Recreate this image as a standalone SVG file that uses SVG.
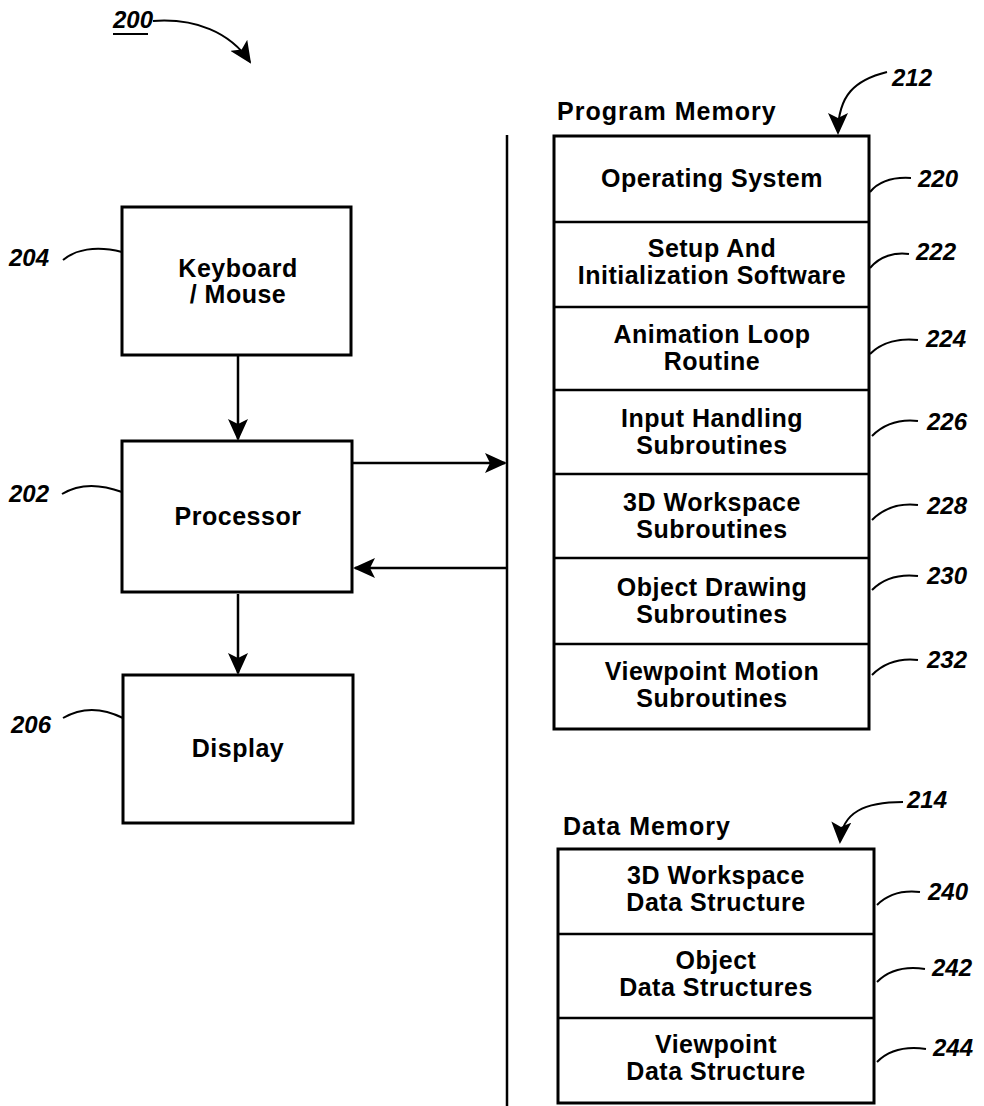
<svg xmlns="http://www.w3.org/2000/svg" width="984" height="1106" viewBox="0 0 984 1106">
<defs>
<style>
.box{fill:#fff;stroke:#000;stroke-width:3}
.t{font-family:"Liberation Sans",Arial,sans-serif;font-weight:bold;font-size:25px;letter-spacing:0.5px;text-anchor:middle;fill:#000}
.h{font-family:"Liberation Sans",Arial,sans-serif;font-weight:bold;font-size:25px;letter-spacing:1px;fill:#000}
.n{font-family:"Liberation Sans",Arial,sans-serif;font-weight:bold;font-style:italic;font-size:24px;fill:#000}
.ln{fill:none;stroke:#000;stroke-width:2.5}
.ld{fill:none;stroke:#000;stroke-width:2}
</style>
<marker id="ab" markerWidth="22" markerHeight="20" refX="20" refY="10" orient="auto" markerUnits="userSpaceOnUse" viewBox="0 0 22 20"><path d="M0,0 L22,10 L0,20 L5,10 Z" fill="#000"/></marker>
</defs>

<g id="connectors">
<line class="ln" x1="507" y1="135" x2="507" y2="1106"/>
<line class="ln" x1="238" y1="356" x2="238" y2="439" marker-end="url(#ab)"/>
<line class="ln" x1="238" y1="594" x2="238" y2="673" marker-end="url(#ab)"/>
<line class="ln" x1="353" y1="463" x2="505" y2="463" marker-end="url(#ab)"/>
<line class="ln" x1="507" y1="568" x2="355" y2="568" marker-end="url(#ab)"/>
</g>

<g id="ref200">
<text class="n" x="113" y="28" font-size="22">200</text>
<line x1="113" y1="34" x2="148" y2="34" stroke="#000" stroke-width="2"/>
<path class="ld" d="M153,21 C195,18 230,32 250,62" marker-end="url(#ab)"/>
</g>

<g id="n204">
<rect class="box" x="122" y="207" width="229" height="148"/>
<text class="t" x="238" y="277">Keyboard</text>
<text class="t" x="238" y="303">/ Mouse</text>
<text class="n" x="9" y="266">204</text>
<path class="ld" d="M63,260 C75,250 95,245 122,252"/>
</g>

<g id="n202">
<rect class="box" x="122" y="441" width="230" height="151"/>
<text class="t" x="238" y="525">Processor</text>
<text class="n" x="9" y="502">202</text>
<path class="ld" d="M62,494 C75,486 95,482 122,492"/>
</g>

<g id="n206">
<rect class="box" x="123" y="675" width="230" height="148"/>
<text class="t" x="238" y="757">Display</text>
<text class="n" x="11" y="733">206</text>
<path class="ld" d="M63,718 C75,711 95,704 123,718"/>
</g>

<g id="programMemory">
<text class="h" x="557" y="120">Program  Memory</text>
<text class="n" x="892" y="86">212</text>
<path class="ld" d="M887,72 C855,80 838,95 838,133" marker-end="url(#ab)"/>
<rect class="box" x="554" y="136" width="315" height="593"/>
<line class="ln" x1="554" y1="222" x2="869" y2="222"/>
<line class="ln" x1="554" y1="307" x2="869" y2="307"/>
<line class="ln" x1="554" y1="390" x2="869" y2="390"/>
<line class="ln" x1="554" y1="474" x2="869" y2="474"/>
<line class="ln" x1="554" y1="558" x2="869" y2="558"/>
<line class="ln" x1="554" y1="644" x2="869" y2="644"/>
</g>

<g id="n220">
<text class="t" x="712" y="187">Operating System</text>
<text class="n" x="918" y="187">220</text>
<path class="ld" d="M870,192 C880,180 895,177 911,178"/>
</g>
<g id="n222">
<text class="t" x="712" y="257">Setup And</text>
<text class="t" x="712" y="284">Initialization Software</text>
<text class="n" x="916" y="260">222</text>
<path class="ld" d="M870,268 C880,256 895,252 909,254"/>
</g>
<g id="n224">
<text class="t" x="712" y="343">Animation Loop</text>
<text class="t" x="712" y="370">Routine</text>
<text class="n" x="926" y="347">224</text>
<path class="ld" d="M870,354 C882,342 900,338 918,340"/>
</g>
<g id="n226">
<text class="t" x="712" y="427">Input Handling</text>
<text class="t" x="712" y="454">Subroutines</text>
<text class="n" x="927" y="430">226</text>
<path class="ld" d="M872,436 C884,424 900,419 918,421"/>
</g>
<g id="n228">
<text class="t" x="712" y="511">3D Workspace</text>
<text class="t" x="712" y="538">Subroutines</text>
<text class="n" x="927" y="514">228</text>
<path class="ld" d="M872,520 C884,508 900,503 918,505"/>
</g>
<g id="n230">
<text class="t" x="712" y="596">Object Drawing</text>
<text class="t" x="712" y="623">Subroutines</text>
<text class="n" x="927" y="584">230</text>
<path class="ld" d="M872,590 C884,578 900,574 918,576"/>
</g>
<g id="n232">
<text class="t" x="712" y="680">Viewpoint Motion</text>
<text class="t" x="712" y="707">Subroutines</text>
<text class="n" x="927" y="668">232</text>
<path class="ld" d="M872,675 C884,663 900,658 918,660"/>
</g>

<g id="dataMemory">
<text class="h" x="563" y="835">Data  Memory</text>
<text class="n" x="907" y="808">214</text>
<path class="ld" d="M903,802 C865,802 842,812 840,842" marker-end="url(#ab)"/>
<rect class="box" x="558" y="849" width="316" height="254"/>
<line class="ln" x1="558" y1="934" x2="874" y2="934"/>
<line class="ln" x1="558" y1="1018" x2="874" y2="1018"/>
</g>
<g id="n240">
<text class="t" x="716" y="884">3D Workspace</text>
<text class="t" x="716" y="911">Data Structure</text>
<text class="n" x="928" y="900">240</text>
<path class="ld" d="M877,905 C888,894 902,890 920,892"/>
</g>
<g id="n242">
<text class="t" x="716" y="969">Object</text>
<text class="t" x="716" y="996">Data Structures</text>
<text class="n" x="932" y="976">242</text>
<path class="ld" d="M877,982 C888,971 905,966 925,969"/>
</g>
<g id="n244">
<text class="t" x="716" y="1053">Viewpoint</text>
<text class="t" x="716" y="1080">Data Structure</text>
<text class="n" x="933" y="1056">244</text>
<path class="ld" d="M877,1062 C888,1051 905,1046 926,1049"/>
</g>
</svg>
